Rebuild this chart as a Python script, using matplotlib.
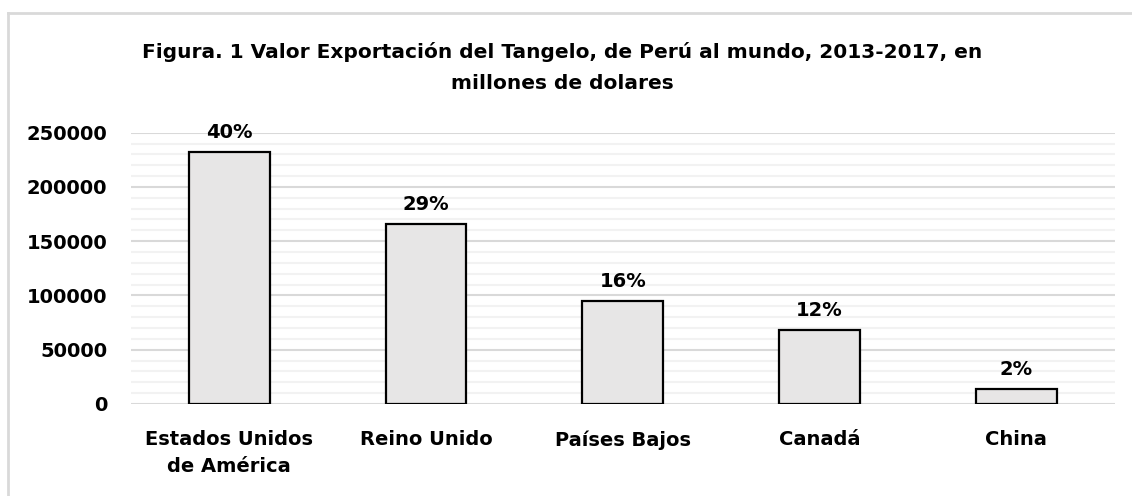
import matplotlib.pyplot as plt
from matplotlib.lines import Line2D
from matplotlib.ticker import MultipleLocator

plt.rcParams['font.family'] = ['DejaVu Sans']
plt.rcParams['font.weight'] = 'bold'

# datos
paises = ['Estados Unidos\nde América', 'Reino Unido', 'Países Bajos', 'Canadá', 'China']
valores = [232000, 166000, 95000, 68500, 14000]
porcentajes = ['40%', '29%', '16%', '12%', '2%']

fig = plt.figure(figsize=(11.32, 4.96), dpi=100)
ax = fig.add_axes([0.1157, 0.1855, 0.869, 0.547])

# marco de la figura (solo borde superior e izquierdo visibles)
fig.lines.append(Line2D([0.0075, 0.0075], [0.0, 0.973], transform=fig.transFigure,
                        color='#d9d9d9', linewidth=2))
fig.lines.append(Line2D([0.0075, 1.0], [0.973, 0.973], transform=fig.transFigure,
                        color='#d9d9d9', linewidth=2))

x = range(len(paises))
barras = ax.bar(x, valores, width=0.41, color='#e7e6e6', edgecolor='black',
                linewidth=1.6, zorder=3)

for b, p in zip(barras, porcentajes):
    ax.annotate(p, (b.get_x() + b.get_width() / 2, b.get_height()),
                xytext=(0, 7), textcoords='offset points',
                ha='center', va='bottom', fontsize=14, fontweight='bold')

ax.set_xlim(-0.5, len(paises) - 0.5)
ax.set_ylim(0, 250000)
ax.yaxis.set_major_locator(MultipleLocator(50000))
ax.yaxis.set_minor_locator(MultipleLocator(10000))
ax.grid(axis='y', which='major', color='#d9d9d9', linewidth=1.5, zorder=0)
ax.grid(axis='y', which='minor', color='#f2f2f2', linewidth=1.5, zorder=0)
ax.set_axisbelow(True)

ax.set_xticks(list(x))
ax.set_xticklabels(paises, fontsize=14, fontweight='bold', linespacing=1.5)
ax.tick_params(axis='both', which='both', length=0, labelsize=14)
ax.tick_params(axis='x', pad=19)
ax.tick_params(axis='y', pad=17)
for lbl in ax.get_yticklabels():
    lbl.set_fontweight('bold')

for s in ['top', 'right', 'left', 'bottom']:
    ax.spines[s].set_visible(False)

fig.text(0.497, 0.864, 'Figura. 1 Valor Exportación del Tangelo, de Perú al mundo, 2013-2017, en\nmillones de dolares',
         ha='center', va='center', fontsize=14.5, fontweight='bold', linespacing=1.75)

fig.savefig('out.png', dpi=100, facecolor='white')
